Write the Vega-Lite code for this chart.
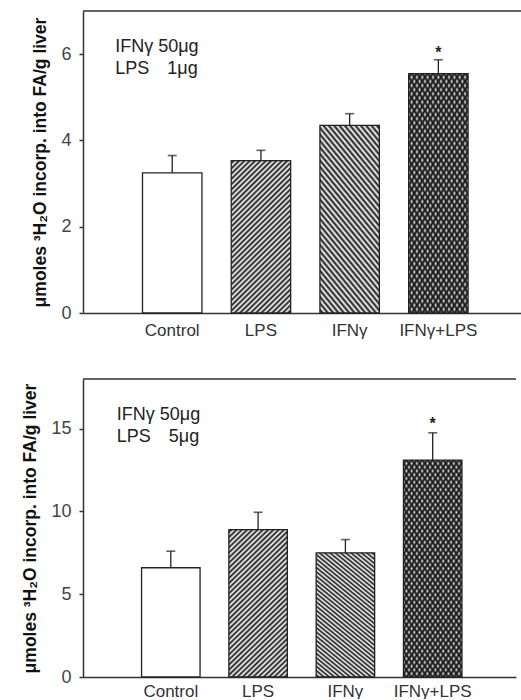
{
"$schema":"https://vega.github.io/schema/vega-lite/v6.json",
"columns":1,
"align":"none",
"spacing":40,
"padding":{"left":21,"top":10,"right":0,"bottom":0},
"config":{
 "font":"Liberation Sans",
 "view":{"stroke":null},
 "axisX":{"ticks":false,"tickSize":0,"labelAngle":0,"labelFontSize":17,"labelFont":"Liberation Sans","labelColor":"#333","domainColor":"#333","domainWidth":1.5,"grid":false},
 "axisY":{"tickSize":4,"labelPadding":8,"titlePadding":11,"labelFontSize":18,"labelFont":"Liberation Sans","labelColor":"#444","titleFont":"Liberation Sans","titleFontSize":17.5,"titleFontWeight":"bold","titleColor":"#111","domainColor":"#333","domainWidth":1.5,"tickColor":"#333","tickWidth":1.5,"grid":false}
},
"concat":[
{
 "width":440,"height":302,
 "data":{"values":[
  {"cat":"Control","mean":3.25,"up":3.65,"sig":""},
  {"cat":"LPS","mean":3.53,"up":3.77,"sig":""},
  {"cat":"IFNγ","mean":4.35,"up":4.62,"sig":""},
  {"cat":"IFNγ+LPS","mean":5.55,"up":5.87,"sig":"*"}
 ]},
 "layer":[
  {"mark":{"type":"bar","fill":"white"},
   "encoding":{"x":{"field":"cat","type":"nominal","scale":{"domain":["Control","LPS","IFNγ","IFNγ+LPS"],"paddingInner":0.33,"paddingOuter":0.645,"align":0.52},"axis":{"title":null,"labelPadding":9}},
    "y":{"field":"mean","type":"quantitative","scale":{"domain":[0,7],"nice":false},"axis":{"title":"μmoles ³H₂O incorp. into FA/g liver","values":[0,2,4,6]}}}},
  {"transform":[{"filter":{"field":"cat","oneOf":["LPS","IFNγ+LPS"]}}],
   "mark":{"type":"bar","fill":{"gradient":"linear","x1":0,"y1":0,"x2":0.464,"y2":1.206,"stops":[{"offset":0,"color":"transparent"},{"offset":0.0125,"color":"#1a1a1a"},{"offset":0.025,"color":"transparent"},{"offset":0.0375,"color":"#1a1a1a"},{"offset":0.05,"color":"transparent"},{"offset":0.0625,"color":"#1a1a1a"},{"offset":0.075,"color":"transparent"},{"offset":0.0875,"color":"#1a1a1a"},{"offset":0.1,"color":"transparent"},{"offset":0.1125,"color":"#1a1a1a"},{"offset":0.125,"color":"transparent"},{"offset":0.1375,"color":"#1a1a1a"},{"offset":0.15,"color":"transparent"},{"offset":0.1625,"color":"#1a1a1a"},{"offset":0.175,"color":"transparent"},{"offset":0.1875,"color":"#1a1a1a"},{"offset":0.2,"color":"transparent"},{"offset":0.2125,"color":"#1a1a1a"},{"offset":0.225,"color":"transparent"},{"offset":0.2375,"color":"#1a1a1a"},{"offset":0.25,"color":"transparent"},{"offset":0.2625,"color":"#1a1a1a"},{"offset":0.275,"color":"transparent"},{"offset":0.2875,"color":"#1a1a1a"},{"offset":0.3,"color":"transparent"},{"offset":0.3125,"color":"#1a1a1a"},{"offset":0.325,"color":"transparent"},{"offset":0.3375,"color":"#1a1a1a"},{"offset":0.35,"color":"transparent"},{"offset":0.3625,"color":"#1a1a1a"},{"offset":0.375,"color":"transparent"},{"offset":0.3875,"color":"#1a1a1a"},{"offset":0.4,"color":"transparent"},{"offset":0.4125,"color":"#1a1a1a"},{"offset":0.425,"color":"transparent"},{"offset":0.4375,"color":"#1a1a1a"},{"offset":0.45,"color":"transparent"},{"offset":0.4625,"color":"#1a1a1a"},{"offset":0.475,"color":"transparent"},{"offset":0.4875,"color":"#1a1a1a"},{"offset":0.5,"color":"transparent"},{"offset":0.5125,"color":"#1a1a1a"},{"offset":0.525,"color":"transparent"},{"offset":0.5375,"color":"#1a1a1a"},{"offset":0.55,"color":"transparent"},{"offset":0.5625,"color":"#1a1a1a"},{"offset":0.575,"color":"transparent"},{"offset":0.5875,"color":"#1a1a1a"},{"offset":0.6,"color":"transparent"},{"offset":0.6125,"color":"#1a1a1a"},{"offset":0.625,"color":"transparent"},{"offset":0.6375,"color":"#1a1a1a"},{"offset":0.65,"color":"transparent"},{"offset":0.6625,"color":"#1a1a1a"},{"offset":0.675,"color":"transparent"},{"offset":0.6875,"color":"#1a1a1a"},{"offset":0.7,"color":"transparent"},{"offset":0.7125,"color":"#1a1a1a"},{"offset":0.725,"color":"transparent"},{"offset":0.7375,"color":"#1a1a1a"},{"offset":0.75,"color":"transparent"},{"offset":0.7625,"color":"#1a1a1a"},{"offset":0.775,"color":"transparent"},{"offset":0.7875,"color":"#1a1a1a"},{"offset":0.8,"color":"transparent"},{"offset":0.8125,"color":"#1a1a1a"},{"offset":0.825,"color":"transparent"},{"offset":0.8375,"color":"#1a1a1a"},{"offset":0.85,"color":"transparent"},{"offset":0.8625,"color":"#1a1a1a"},{"offset":0.875,"color":"transparent"},{"offset":0.8875,"color":"#1a1a1a"},{"offset":0.9,"color":"transparent"},{"offset":0.9125,"color":"#1a1a1a"},{"offset":0.925,"color":"transparent"},{"offset":0.9375,"color":"#1a1a1a"},{"offset":0.95,"color":"transparent"},{"offset":0.9625,"color":"#1a1a1a"},{"offset":0.975,"color":"transparent"},{"offset":0.9875,"color":"#1a1a1a"},{"offset":1,"color":"transparent"}]}},
   "encoding":{"x":{"field":"cat","type":"nominal","scale":{"domain":["Control","LPS","IFNγ","IFNγ+LPS"],"paddingInner":0.33,"paddingOuter":0.645,"align":0.52},"axis":{"title":null,"labelPadding":9}},
    "y":{"field":"mean","type":"quantitative","scale":{"domain":[0,7],"nice":false},"axis":{"title":"μmoles ³H₂O incorp. into FA/g liver","values":[0,2,4,6]}}}},
  {"transform":[{"filter":{"field":"cat","oneOf":["IFNγ","IFNγ+LPS"]}}],
   "mark":{"type":"bar","fill":{"gradient":"linear","x1":0,"y1":1,"x2":0.464,"y2":-0.206,"stops":[{"offset":0,"color":"transparent"},{"offset":0.0125,"color":"#1a1a1a"},{"offset":0.025,"color":"transparent"},{"offset":0.0375,"color":"#1a1a1a"},{"offset":0.05,"color":"transparent"},{"offset":0.0625,"color":"#1a1a1a"},{"offset":0.075,"color":"transparent"},{"offset":0.0875,"color":"#1a1a1a"},{"offset":0.1,"color":"transparent"},{"offset":0.1125,"color":"#1a1a1a"},{"offset":0.125,"color":"transparent"},{"offset":0.1375,"color":"#1a1a1a"},{"offset":0.15,"color":"transparent"},{"offset":0.1625,"color":"#1a1a1a"},{"offset":0.175,"color":"transparent"},{"offset":0.1875,"color":"#1a1a1a"},{"offset":0.2,"color":"transparent"},{"offset":0.2125,"color":"#1a1a1a"},{"offset":0.225,"color":"transparent"},{"offset":0.2375,"color":"#1a1a1a"},{"offset":0.25,"color":"transparent"},{"offset":0.2625,"color":"#1a1a1a"},{"offset":0.275,"color":"transparent"},{"offset":0.2875,"color":"#1a1a1a"},{"offset":0.3,"color":"transparent"},{"offset":0.3125,"color":"#1a1a1a"},{"offset":0.325,"color":"transparent"},{"offset":0.3375,"color":"#1a1a1a"},{"offset":0.35,"color":"transparent"},{"offset":0.3625,"color":"#1a1a1a"},{"offset":0.375,"color":"transparent"},{"offset":0.3875,"color":"#1a1a1a"},{"offset":0.4,"color":"transparent"},{"offset":0.4125,"color":"#1a1a1a"},{"offset":0.425,"color":"transparent"},{"offset":0.4375,"color":"#1a1a1a"},{"offset":0.45,"color":"transparent"},{"offset":0.4625,"color":"#1a1a1a"},{"offset":0.475,"color":"transparent"},{"offset":0.4875,"color":"#1a1a1a"},{"offset":0.5,"color":"transparent"},{"offset":0.5125,"color":"#1a1a1a"},{"offset":0.525,"color":"transparent"},{"offset":0.5375,"color":"#1a1a1a"},{"offset":0.55,"color":"transparent"},{"offset":0.5625,"color":"#1a1a1a"},{"offset":0.575,"color":"transparent"},{"offset":0.5875,"color":"#1a1a1a"},{"offset":0.6,"color":"transparent"},{"offset":0.6125,"color":"#1a1a1a"},{"offset":0.625,"color":"transparent"},{"offset":0.6375,"color":"#1a1a1a"},{"offset":0.65,"color":"transparent"},{"offset":0.6625,"color":"#1a1a1a"},{"offset":0.675,"color":"transparent"},{"offset":0.6875,"color":"#1a1a1a"},{"offset":0.7,"color":"transparent"},{"offset":0.7125,"color":"#1a1a1a"},{"offset":0.725,"color":"transparent"},{"offset":0.7375,"color":"#1a1a1a"},{"offset":0.75,"color":"transparent"},{"offset":0.7625,"color":"#1a1a1a"},{"offset":0.775,"color":"transparent"},{"offset":0.7875,"color":"#1a1a1a"},{"offset":0.8,"color":"transparent"},{"offset":0.8125,"color":"#1a1a1a"},{"offset":0.825,"color":"transparent"},{"offset":0.8375,"color":"#1a1a1a"},{"offset":0.85,"color":"transparent"},{"offset":0.8625,"color":"#1a1a1a"},{"offset":0.875,"color":"transparent"},{"offset":0.8875,"color":"#1a1a1a"},{"offset":0.9,"color":"transparent"},{"offset":0.9125,"color":"#1a1a1a"},{"offset":0.925,"color":"transparent"},{"offset":0.9375,"color":"#1a1a1a"},{"offset":0.95,"color":"transparent"},{"offset":0.9625,"color":"#1a1a1a"},{"offset":0.975,"color":"transparent"},{"offset":0.9875,"color":"#1a1a1a"},{"offset":1,"color":"transparent"}]}},
   "encoding":{"x":{"field":"cat","type":"nominal","scale":{"domain":["Control","LPS","IFNγ","IFNγ+LPS"],"paddingInner":0.33,"paddingOuter":0.645,"align":0.52},"axis":{"title":null,"labelPadding":9}},
    "y":{"field":"mean","type":"quantitative","scale":{"domain":[0,7],"nice":false},"axis":{"title":"μmoles ³H₂O incorp. into FA/g liver","values":[0,2,4,6]}}}},
  {"mark":{"type":"bar","fillOpacity":0,"stroke":"#222","strokeWidth":1.3},
   "encoding":{"x":{"field":"cat","type":"nominal","scale":{"domain":["Control","LPS","IFNγ","IFNγ+LPS"],"paddingInner":0.33,"paddingOuter":0.645,"align":0.52},"axis":{"title":null,"labelPadding":9}},
    "y":{"field":"mean","type":"quantitative","scale":{"domain":[0,7],"nice":false},"axis":{"title":"μmoles ³H₂O incorp. into FA/g liver","values":[0,2,4,6]}}}},
  {"mark":{"type":"rule","color":"#222","strokeWidth":1.3},
   "encoding":{"x":{"field":"cat","type":"nominal","scale":{"domain":["Control","LPS","IFNγ","IFNγ+LPS"],"paddingInner":0.33,"paddingOuter":0.645,"align":0.52},"axis":{"title":null,"labelPadding":9}},
    "y":{"field":"mean","type":"quantitative","scale":{"domain":[0,7],"nice":false},"axis":{"title":"μmoles ³H₂O incorp. into FA/g liver","values":[0,2,4,6]}},
    "y2":{"field":"up"}}},
  {"mark":{"type":"tick","orient":"horizontal","size":9,"thickness":1.6,"color":"#222"},
   "encoding":{"x":{"field":"cat","type":"nominal","scale":{"domain":["Control","LPS","IFNγ","IFNγ+LPS"],"paddingInner":0.33,"paddingOuter":0.645,"align":0.52},"axis":{"title":null,"labelPadding":9}},
    "y":{"field":"up","type":"quantitative","scale":{"domain":[0,7],"nice":false},"axis":{"title":"μmoles ³H₂O incorp. into FA/g liver","values":[0,2,4,6]}}}},
  {"mark":{"type":"text","fontSize":16,"dy":-7,"fontWeight":"bold","color":"#222"},
   "encoding":{"x":{"field":"cat","type":"nominal","scale":{"domain":["Control","LPS","IFNγ","IFNγ+LPS"],"paddingInner":0.33,"paddingOuter":0.645,"align":0.52},"axis":{"title":null,"labelPadding":9}},
    "y":{"field":"up","type":"quantitative","scale":{"domain":[0,7],"nice":false},"axis":{"title":"μmoles ³H₂O incorp. into FA/g liver","values":[0,2,4,6]}},
    "text":{"field":"sig"}}},
  {"data":{"values":[{"cat":"Control","v":6.17,"label":"IFNγ 50μg"},{"cat":"Control","v":5.66,"label":"LPS\u2002\u20021μg"}]},
   "mark":{"type":"text","align":"left","dx":-57,"fontSize":18,"color":"#222"},
   "encoding":{"x":{"field":"cat","type":"nominal","scale":{"domain":["Control","LPS","IFNγ","IFNγ+LPS"],"paddingInner":0.33,"paddingOuter":0.645,"align":0.52},"axis":{"title":null,"labelPadding":9}},
    "y":{"field":"v","type":"quantitative","scale":{"domain":[0,7],"nice":false},"axis":{"title":"μmoles ³H₂O incorp. into FA/g liver","values":[0,2,4,6]}},
    "text":{"field":"label"}}},
  {"data":{"values":[{}]},
   "mark":{"type":"rule","color":"#333","strokeWidth":1.5},
   "encoding":{"y":{"datum":7,"type":"quantitative","scale":{"domain":[0,7],"nice":false},"axis":{"title":"μmoles ³H₂O incorp. into FA/g liver","values":[0,2,4,6]}}}}
 ]
},
{
 "width":433,"height":298,
 "data":{"values":[
  {"cat":"Control","mean":6.6,"up":7.6,"sig":""},
  {"cat":"LPS","mean":8.9,"up":9.95,"sig":""},
  {"cat":"IFNγ","mean":7.5,"up":8.3,"sig":""},
  {"cat":"IFNγ+LPS","mean":13.1,"up":14.75,"sig":"*"}
 ]},
 "layer":[
  {"mark":{"type":"bar","fill":"white"},
   "encoding":{"x":{"field":"cat","type":"nominal","scale":{"domain":["Control","LPS","IFNγ","IFNγ+LPS"],"paddingInner":0.33,"paddingOuter":0.645,"align":0.52},"axis":{"title":null,"labelPadding":6}},
    "y":{"field":"mean","type":"quantitative","scale":{"domain":[0,18],"nice":false},"axis":{"title":"μmoles ³H₂O incorp. into FA/g liver","values":[0,5,10,15]}}}},
  {"transform":[{"filter":{"field":"cat","oneOf":["LPS","IFNγ+LPS"]}}],
   "mark":{"type":"bar","fill":{"gradient":"linear","x1":0,"y1":0,"x2":0.464,"y2":1.206,"stops":[{"offset":0,"color":"transparent"},{"offset":0.0125,"color":"#1a1a1a"},{"offset":0.025,"color":"transparent"},{"offset":0.0375,"color":"#1a1a1a"},{"offset":0.05,"color":"transparent"},{"offset":0.0625,"color":"#1a1a1a"},{"offset":0.075,"color":"transparent"},{"offset":0.0875,"color":"#1a1a1a"},{"offset":0.1,"color":"transparent"},{"offset":0.1125,"color":"#1a1a1a"},{"offset":0.125,"color":"transparent"},{"offset":0.1375,"color":"#1a1a1a"},{"offset":0.15,"color":"transparent"},{"offset":0.1625,"color":"#1a1a1a"},{"offset":0.175,"color":"transparent"},{"offset":0.1875,"color":"#1a1a1a"},{"offset":0.2,"color":"transparent"},{"offset":0.2125,"color":"#1a1a1a"},{"offset":0.225,"color":"transparent"},{"offset":0.2375,"color":"#1a1a1a"},{"offset":0.25,"color":"transparent"},{"offset":0.2625,"color":"#1a1a1a"},{"offset":0.275,"color":"transparent"},{"offset":0.2875,"color":"#1a1a1a"},{"offset":0.3,"color":"transparent"},{"offset":0.3125,"color":"#1a1a1a"},{"offset":0.325,"color":"transparent"},{"offset":0.3375,"color":"#1a1a1a"},{"offset":0.35,"color":"transparent"},{"offset":0.3625,"color":"#1a1a1a"},{"offset":0.375,"color":"transparent"},{"offset":0.3875,"color":"#1a1a1a"},{"offset":0.4,"color":"transparent"},{"offset":0.4125,"color":"#1a1a1a"},{"offset":0.425,"color":"transparent"},{"offset":0.4375,"color":"#1a1a1a"},{"offset":0.45,"color":"transparent"},{"offset":0.4625,"color":"#1a1a1a"},{"offset":0.475,"color":"transparent"},{"offset":0.4875,"color":"#1a1a1a"},{"offset":0.5,"color":"transparent"},{"offset":0.5125,"color":"#1a1a1a"},{"offset":0.525,"color":"transparent"},{"offset":0.5375,"color":"#1a1a1a"},{"offset":0.55,"color":"transparent"},{"offset":0.5625,"color":"#1a1a1a"},{"offset":0.575,"color":"transparent"},{"offset":0.5875,"color":"#1a1a1a"},{"offset":0.6,"color":"transparent"},{"offset":0.6125,"color":"#1a1a1a"},{"offset":0.625,"color":"transparent"},{"offset":0.6375,"color":"#1a1a1a"},{"offset":0.65,"color":"transparent"},{"offset":0.6625,"color":"#1a1a1a"},{"offset":0.675,"color":"transparent"},{"offset":0.6875,"color":"#1a1a1a"},{"offset":0.7,"color":"transparent"},{"offset":0.7125,"color":"#1a1a1a"},{"offset":0.725,"color":"transparent"},{"offset":0.7375,"color":"#1a1a1a"},{"offset":0.75,"color":"transparent"},{"offset":0.7625,"color":"#1a1a1a"},{"offset":0.775,"color":"transparent"},{"offset":0.7875,"color":"#1a1a1a"},{"offset":0.8,"color":"transparent"},{"offset":0.8125,"color":"#1a1a1a"},{"offset":0.825,"color":"transparent"},{"offset":0.8375,"color":"#1a1a1a"},{"offset":0.85,"color":"transparent"},{"offset":0.8625,"color":"#1a1a1a"},{"offset":0.875,"color":"transparent"},{"offset":0.8875,"color":"#1a1a1a"},{"offset":0.9,"color":"transparent"},{"offset":0.9125,"color":"#1a1a1a"},{"offset":0.925,"color":"transparent"},{"offset":0.9375,"color":"#1a1a1a"},{"offset":0.95,"color":"transparent"},{"offset":0.9625,"color":"#1a1a1a"},{"offset":0.975,"color":"transparent"},{"offset":0.9875,"color":"#1a1a1a"},{"offset":1,"color":"transparent"}]}},
   "encoding":{"x":{"field":"cat","type":"nominal","scale":{"domain":["Control","LPS","IFNγ","IFNγ+LPS"],"paddingInner":0.33,"paddingOuter":0.645,"align":0.52},"axis":{"title":null,"labelPadding":6}},
    "y":{"field":"mean","type":"quantitative","scale":{"domain":[0,18],"nice":false},"axis":{"title":"μmoles ³H₂O incorp. into FA/g liver","values":[0,5,10,15]}}}},
  {"transform":[{"filter":{"field":"cat","oneOf":["IFNγ","IFNγ+LPS"]}}],
   "mark":{"type":"bar","fill":{"gradient":"linear","x1":0,"y1":1,"x2":0.464,"y2":-0.206,"stops":[{"offset":0,"color":"transparent"},{"offset":0.0125,"color":"#1a1a1a"},{"offset":0.025,"color":"transparent"},{"offset":0.0375,"color":"#1a1a1a"},{"offset":0.05,"color":"transparent"},{"offset":0.0625,"color":"#1a1a1a"},{"offset":0.075,"color":"transparent"},{"offset":0.0875,"color":"#1a1a1a"},{"offset":0.1,"color":"transparent"},{"offset":0.1125,"color":"#1a1a1a"},{"offset":0.125,"color":"transparent"},{"offset":0.1375,"color":"#1a1a1a"},{"offset":0.15,"color":"transparent"},{"offset":0.1625,"color":"#1a1a1a"},{"offset":0.175,"color":"transparent"},{"offset":0.1875,"color":"#1a1a1a"},{"offset":0.2,"color":"transparent"},{"offset":0.2125,"color":"#1a1a1a"},{"offset":0.225,"color":"transparent"},{"offset":0.2375,"color":"#1a1a1a"},{"offset":0.25,"color":"transparent"},{"offset":0.2625,"color":"#1a1a1a"},{"offset":0.275,"color":"transparent"},{"offset":0.2875,"color":"#1a1a1a"},{"offset":0.3,"color":"transparent"},{"offset":0.3125,"color":"#1a1a1a"},{"offset":0.325,"color":"transparent"},{"offset":0.3375,"color":"#1a1a1a"},{"offset":0.35,"color":"transparent"},{"offset":0.3625,"color":"#1a1a1a"},{"offset":0.375,"color":"transparent"},{"offset":0.3875,"color":"#1a1a1a"},{"offset":0.4,"color":"transparent"},{"offset":0.4125,"color":"#1a1a1a"},{"offset":0.425,"color":"transparent"},{"offset":0.4375,"color":"#1a1a1a"},{"offset":0.45,"color":"transparent"},{"offset":0.4625,"color":"#1a1a1a"},{"offset":0.475,"color":"transparent"},{"offset":0.4875,"color":"#1a1a1a"},{"offset":0.5,"color":"transparent"},{"offset":0.5125,"color":"#1a1a1a"},{"offset":0.525,"color":"transparent"},{"offset":0.5375,"color":"#1a1a1a"},{"offset":0.55,"color":"transparent"},{"offset":0.5625,"color":"#1a1a1a"},{"offset":0.575,"color":"transparent"},{"offset":0.5875,"color":"#1a1a1a"},{"offset":0.6,"color":"transparent"},{"offset":0.6125,"color":"#1a1a1a"},{"offset":0.625,"color":"transparent"},{"offset":0.6375,"color":"#1a1a1a"},{"offset":0.65,"color":"transparent"},{"offset":0.6625,"color":"#1a1a1a"},{"offset":0.675,"color":"transparent"},{"offset":0.6875,"color":"#1a1a1a"},{"offset":0.7,"color":"transparent"},{"offset":0.7125,"color":"#1a1a1a"},{"offset":0.725,"color":"transparent"},{"offset":0.7375,"color":"#1a1a1a"},{"offset":0.75,"color":"transparent"},{"offset":0.7625,"color":"#1a1a1a"},{"offset":0.775,"color":"transparent"},{"offset":0.7875,"color":"#1a1a1a"},{"offset":0.8,"color":"transparent"},{"offset":0.8125,"color":"#1a1a1a"},{"offset":0.825,"color":"transparent"},{"offset":0.8375,"color":"#1a1a1a"},{"offset":0.85,"color":"transparent"},{"offset":0.8625,"color":"#1a1a1a"},{"offset":0.875,"color":"transparent"},{"offset":0.8875,"color":"#1a1a1a"},{"offset":0.9,"color":"transparent"},{"offset":0.9125,"color":"#1a1a1a"},{"offset":0.925,"color":"transparent"},{"offset":0.9375,"color":"#1a1a1a"},{"offset":0.95,"color":"transparent"},{"offset":0.9625,"color":"#1a1a1a"},{"offset":0.975,"color":"transparent"},{"offset":0.9875,"color":"#1a1a1a"},{"offset":1,"color":"transparent"}]}},
   "encoding":{"x":{"field":"cat","type":"nominal","scale":{"domain":["Control","LPS","IFNγ","IFNγ+LPS"],"paddingInner":0.33,"paddingOuter":0.645,"align":0.52},"axis":{"title":null,"labelPadding":6}},
    "y":{"field":"mean","type":"quantitative","scale":{"domain":[0,18],"nice":false},"axis":{"title":"μmoles ³H₂O incorp. into FA/g liver","values":[0,5,10,15]}}}},
  {"mark":{"type":"bar","fillOpacity":0,"stroke":"#222","strokeWidth":1.3},
   "encoding":{"x":{"field":"cat","type":"nominal","scale":{"domain":["Control","LPS","IFNγ","IFNγ+LPS"],"paddingInner":0.33,"paddingOuter":0.645,"align":0.52},"axis":{"title":null,"labelPadding":6}},
    "y":{"field":"mean","type":"quantitative","scale":{"domain":[0,18],"nice":false},"axis":{"title":"μmoles ³H₂O incorp. into FA/g liver","values":[0,5,10,15]}}}},
  {"mark":{"type":"rule","color":"#222","strokeWidth":1.3},
   "encoding":{"x":{"field":"cat","type":"nominal","scale":{"domain":["Control","LPS","IFNγ","IFNγ+LPS"],"paddingInner":0.33,"paddingOuter":0.645,"align":0.52},"axis":{"title":null,"labelPadding":6}},
    "y":{"field":"mean","type":"quantitative","scale":{"domain":[0,18],"nice":false},"axis":{"title":"μmoles ³H₂O incorp. into FA/g liver","values":[0,5,10,15]}},
    "y2":{"field":"up"}}},
  {"mark":{"type":"tick","orient":"horizontal","size":9,"thickness":1.6,"color":"#222"},
   "encoding":{"x":{"field":"cat","type":"nominal","scale":{"domain":["Control","LPS","IFNγ","IFNγ+LPS"],"paddingInner":0.33,"paddingOuter":0.645,"align":0.52},"axis":{"title":null,"labelPadding":6}},
    "y":{"field":"up","type":"quantitative","scale":{"domain":[0,18],"nice":false},"axis":{"title":"μmoles ³H₂O incorp. into FA/g liver","values":[0,5,10,15]}}}},
  {"mark":{"type":"text","fontSize":16,"dy":-9,"fontWeight":"bold","color":"#222"},
   "encoding":{"x":{"field":"cat","type":"nominal","scale":{"domain":["Control","LPS","IFNγ","IFNγ+LPS"],"paddingInner":0.33,"paddingOuter":0.645,"align":0.52},"axis":{"title":null,"labelPadding":6}},
    "y":{"field":"up","type":"quantitative","scale":{"domain":[0,18],"nice":false},"axis":{"title":"μmoles ³H₂O incorp. into FA/g liver","values":[0,5,10,15]}},
    "text":{"field":"sig"}}},
  {"data":{"values":[{"cat":"Control","v":15.8,"label":"IFNγ 50μg"},{"cat":"Control","v":14.5,"label":"LPS\u2002\u20025μg"}]},
   "mark":{"type":"text","align":"left","dx":-54,"fontSize":18,"color":"#222"},
   "encoding":{"x":{"field":"cat","type":"nominal","scale":{"domain":["Control","LPS","IFNγ","IFNγ+LPS"],"paddingInner":0.33,"paddingOuter":0.645,"align":0.52},"axis":{"title":null,"labelPadding":6}},
    "y":{"field":"v","type":"quantitative","scale":{"domain":[0,18],"nice":false},"axis":{"title":"μmoles ³H₂O incorp. into FA/g liver","values":[0,5,10,15]}},
    "text":{"field":"label"}}},
  {"data":{"values":[{}]},
   "mark":{"type":"rule","color":"#333","strokeWidth":1.5},
   "encoding":{"y":{"datum":18,"type":"quantitative","scale":{"domain":[0,18],"nice":false},"axis":{"title":"μmoles ³H₂O incorp. into FA/g liver","values":[0,5,10,15]}}}}
 ]
}
]
}
